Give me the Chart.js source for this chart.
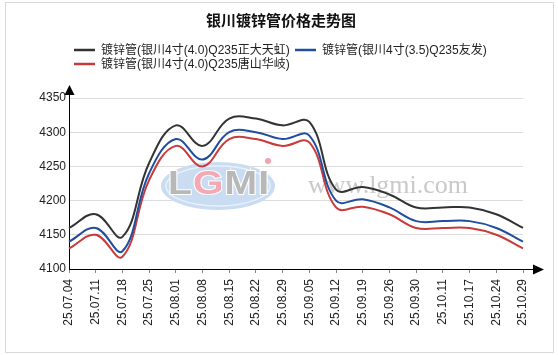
<!DOCTYPE html>
<html>
<head>
<meta charset="utf-8">
<script src="https://cdn.jsdelivr.net/npm/chart.js@4"></script>
<style>
html,body{margin:0;padding:0;background:#fff;}
canvas{display:block;}
</style>
</head>
<body>
<canvas id="c" width="558" height="355"></canvas>
<script>
const TITLE = '银川镀锌管价格走势图';
const categories = ['25.07.04','25.07.11','25.07.18','25.07.25','25.08.01','25.08.08','25.08.15','25.08.22','25.08.29','25.09.05','25.09.12','25.09.19','25.09.26','25.09.30','25.10.11','25.10.17','25.10.24','25.10.29'];
const seriesNames = ['镀锌管(银川4寸(4.0)Q235正大天虹)','镀锌管(银川4寸(3.5)Q235友发)','镀锌管(银川4寸(4.0)Q235唐山华岐)'];
const zhengdaValues = [4160,4180,4147,4255,4310,4280,4320,4320,4310,4315,4216,4220,4209,4190,4190,4190,4180,4160];
const youfaValues   = [4140,4160,4126,4240,4290,4260,4300,4300,4290,4295,4200,4202,4190,4170,4170,4170,4160,4140];
const huaqiValues   = [4130,4150,4118,4230,4280,4250,4290,4290,4280,4285,4190,4191,4180,4160,4160,4160,4150,4130];
const yTicks = [4100,4150,4200,4250,4300,4350];

const colors = ['#333333','#1f4e9f','#c93a3a'];
const FONT = '"Liberation Sans", "Noto Sans CJK SC", sans-serif';

const decor = {
  id:'decor',
  beforeDraw(chart){
    const ctx = chart.ctx;
    ctx.save();
    ctx.fillStyle='#fff';
    ctx.fillRect(0,0,chart.width,chart.height);
    ctx.strokeStyle='#d9d9d9';
    ctx.lineWidth=1;
    ctx.strokeRect(5.5,2.5,548,350);
    // title
    ctx.fillStyle='#111';
    ctx.font='bold 15px "Noto Sans CJK SC", sans-serif';
    ctx.textAlign='center';
    ctx.textBaseline='middle';
    ctx.fillText(TITLE, 281, 20);
    // legend
    ctx.font='12px ' + FONT;
    ctx.textAlign='left';
    const pos = [[74,50],[295,50],[74,64]];
    chart.data.datasets.forEach((ds,i)=>{
      const [x,y] = pos[i];
      ctx.strokeStyle = ds.borderColor;
      ctx.lineWidth = 2.5;
      ctx.beginPath(); ctx.moveTo(x,y); ctx.lineTo(x+21,y); ctx.stroke();
      ctx.fillStyle='#222';
      ctx.fillText(ds.label, x+27, y+1);
    });
    ctx.restore();
  },
  beforeDatasetsDraw(chart){
    const ctx = chart.ctx;
    ctx.save();
    // watermark ellipse
    ctx.beginPath();
    ctx.ellipse(218,186,57,24,0,0,Math.PI*2);
    ctx.fillStyle='#c9dcf1';
    ctx.fill();
    ctx.beginPath();
    ctx.ellipse(218,186,52,20,0,0,Math.PI*2);
    ctx.strokeStyle='#e9f1fa';
    ctx.lineWidth=1.5;
    ctx.stroke();
    // LGMI letters
    ctx.translate(168,194);
    ctx.scale(1.15,1);
    ctx.font='bold 34px "Liberation Sans", sans-serif';
    ctx.textBaseline='alphabetic';
    ctx.textAlign='left';
    ctx.lineWidth=2;
    ctx.strokeStyle='#ffffff';
    let x=0;
    [['L','#b8b8b8'],['G','#f3aab4'],['M','#b8b8b8'],['I','#b8b8b8']].forEach(([t,c])=>{
      ctx.strokeText(t,x,0);
      ctx.fillStyle=c;
      ctx.fillText(t,x,0);
      x += ctx.measureText(t).width + 1;
    });
    ctx.restore();
    ctx.save();
    ctx.beginPath();
    ctx.arc(268,161,3,0,Math.PI*2);
    ctx.fillStyle='#f3a3ad';
    ctx.fill();
    ctx.font='26px "Liberation Serif", serif';
    ctx.fillStyle='#c9c9c9';
    ctx.textAlign='left';
    ctx.textBaseline='alphabetic';
    ctx.fillText('www.lgmi.com', 308, 193);
    ctx.restore();
  },
  afterDraw(chart){
    const ctx = chart.ctx;
    const a = chart.chartArea;
    ctx.save();
    ctx.strokeStyle='#000';
    ctx.fillStyle='#000';
    ctx.lineWidth=1;
    ctx.beginPath(); ctx.moveTo(a.left+0.5,a.top); ctx.lineTo(a.left+0.5,a.top-5); ctx.stroke();
    ctx.beginPath();
    ctx.moveTo(a.left+0.5,85); ctx.lineTo(a.left-4.5,95); ctx.lineTo(a.left+5.5,95); ctx.closePath(); ctx.fill();
    ctx.beginPath(); ctx.moveTo(a.right,a.bottom+0.5); ctx.lineTo(a.right+11,a.bottom+0.5); ctx.stroke();
    ctx.beginPath();
    ctx.moveTo(544,a.bottom+0.5); ctx.lineTo(533,a.bottom-4.5); ctx.lineTo(533,a.bottom+5.5); ctx.closePath(); ctx.fill();
    ctx.restore();
  }
};

new Chart(document.getElementById('c'), {
  type:'line',
  data:{
    labels: categories,
    datasets:[
      {label:seriesNames[0], data:zhengdaValues, borderColor:colors[0], backgroundColor:colors[0]},
      {label:seriesNames[1], data:youfaValues, borderColor:colors[1], backgroundColor:colors[1]},
      {label:seriesNames[2], data:huaqiValues, borderColor:colors[2], backgroundColor:colors[2]}
    ]
  },
  options:{
    responsive:false,
    animation:false,
    devicePixelRatio:1,
    layout:{padding:{top:98,right:35,left:0,bottom:0}},
    elements:{
      line:{borderWidth:2,tension:0.4,fill:false},
      point:{radius:0,hoverRadius:0}
    },
    plugins:{legend:{display:false},title:{display:false},tooltip:{enabled:false}},
    scales:{
      x:{
        type:'category',
        grid:{drawOnChartArea:false,drawTicks:true,tickLength:4,tickColor:'#888'},
        border:{display:true,color:'#000',width:1},
        ticks:{autoSkip:false,maxRotation:90,minRotation:90,padding:6,color:'#222',font:{size:12,family:FONT}},
        afterFit(s){ s.height = 86; }
      },
      y:{
        min:4100,max:4350,
        afterBuildTicks(s){ s.ticks = yTicks.map(v=>({value:v})); },
        grid:{color:'#dcdcdc',drawTicks:false,lineWidth:1},
        border:{display:true,color:'#000',width:1},
        ticks:{padding:3,color:'#222',font:{size:12,family:FONT},callback:(v)=>String(v)},
        afterFit(s){ s.width = 69; }
      }
    }
  },
  plugins:[decor]
});
</script>
</body>
</html>
